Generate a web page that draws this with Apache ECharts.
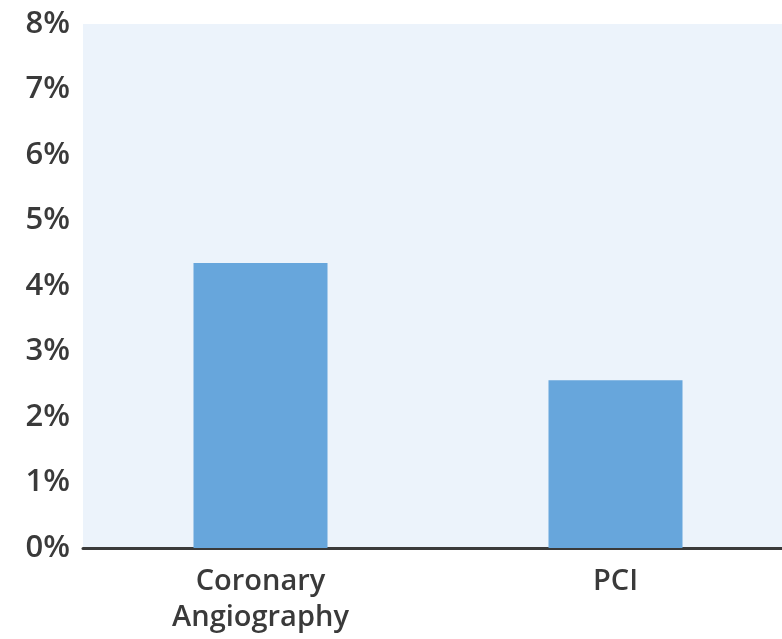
<!DOCTYPE html>
<html>
<head>
<meta charset="UTF-8">
<title>chart</title>
<style>
  html, body { margin: 0; padding: 0; background: #fff; }
  #container { width: 782px; height: 639px; }
</style>
</head>
<body>
<div id="container"></div>
<script src="https://cdn.jsdelivr.net/npm/echarts@6/dist/echarts.min.js"></script>
<script>
// data
var categories = ['Coronary\nAngiography', 'PCI'];
var values = [4.35, 2.56];
var yTicks = [0, 1, 2, 3, 4, 5, 6, 7, 8];

var myChart = echarts.init(document.getElementById('container'));

var option = {
  animation: false,
  grid: {
    left: 83,
    top: 24,
    width: 710,
    height: 524,
    outerBoundsMode: 'none',
    containLabel: false,
    show: true,
    backgroundColor: '#ecf3fb',
    borderWidth: 0
  },
  xAxis: {
    type: 'category',
    data: categories,
    axisTick: { show: false },
    axisLine: { show: true, lineStyle: { color: '#3a3a3a', width: 3 } },
    axisLabel: {
      color: '#3a3a3a',
      fontSize: 29,
      fontWeight: 600,
      fontFamily: '"Open Sans", "Noto Sans", sans-serif',
      lineHeight: 36,
      margin: 16
    }
  },
  yAxis: {
    type: 'value',
    min: yTicks[0],
    max: yTicks[yTicks.length - 1],
    interval: 1,
    splitLine: { show: false },
    axisLine: { show: false },
    axisTick: { show: false },
    axisLabel: {
      color: '#3a3a3a',
      fontSize: 31,
      fontWeight: 600,
      fontFamily: '"Open Sans", "Noto Sans", sans-serif',
      margin: 13,
      formatter: '{value}%'
    }
  },
  series: [
    {
      type: 'bar',
      data: values,
      barWidth: 134,
      itemStyle: { color: '#67a6dc' }
    }
  ]
};

myChart.setOption(option);
</script>
</body>
</html>
